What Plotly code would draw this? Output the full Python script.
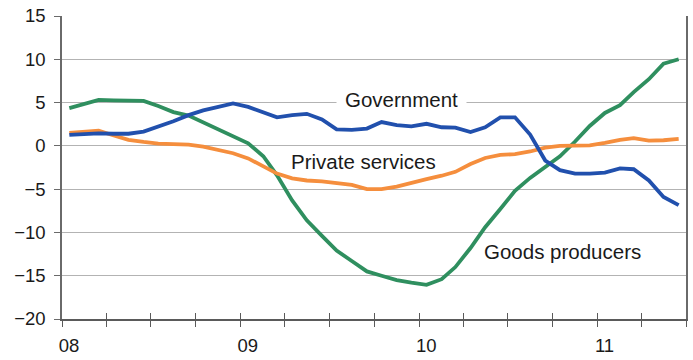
import pandas as pd
import plotly.graph_objects as go

# Monthly observations, Jan 2008 - Jun 2011 (annual % change)
months = pd.date_range("2008-01-01", periods=42, freq="MS") + pd.Timedelta(days=15)

goods_producers = [
    4.35, 4.8, 5.3, 5.25, 5.2, 5.2, 4.6, 3.9, 3.5, 2.7, 1.9, 1.1,
    0.3, -1.2, -3.4, -6.3, -8.6, -10.4, -12.1, -13.3, -14.5, -15.0, -15.5, -15.8,
    -16.05, -15.4, -14.0, -11.8, -9.4, -7.3, -5.2, -3.7, -2.4, -1.2, 0.5, 2.3,
    3.8, 4.7, 6.2, 7.7, 9.5, 10.0,
]
government = [
    1.27, 1.4, 1.45, 1.4, 1.4, 1.65, 2.2, 2.85, 3.55, 4.1, 4.5, 4.9,
    4.5, 3.85, 3.3, 3.55, 3.7, 3.05, 1.9, 1.85, 2.0, 2.75, 2.4, 2.25,
    2.55, 2.15, 2.1, 1.6, 2.15, 3.3, 3.3, 1.3, -1.7, -2.8, -3.2, -3.2,
    -3.1, -2.6, -2.7, -4.0, -5.9, -6.85,
]
private_services = [
    1.5, 1.6, 1.75, 1.2, 0.7, 0.45, 0.25, 0.2, 0.15, -0.1, -0.45, -0.85,
    -1.45, -2.35, -3.2, -3.75, -4.0, -4.1, -4.25, -4.5, -5.0, -5.0, -4.7, -4.25,
    -3.85, -3.45, -3.0, -2.1, -1.4, -1.05, -0.95, -0.65, -0.2, 0.0, 0.0, 0.05,
    0.35, 0.7, 0.9, 0.6, 0.65, 0.8,
]

quarter_ticks = pd.date_range("2008-01-01", "2011-07-01", freq="QS")
year_labels = {2008: "08", 2009: "09", 2010: "10", 2011: "11"}
quarter_text = [year_labels[d.year] if d.month == 1 else "" for d in quarter_ticks]

GREEN = "#2f8f5f"
BLUE = "#2150ad"
ORANGE = "#f58e3d"
FONT = "Liberation Sans, Arial, sans-serif"

fig = go.Figure()
for name, values, color in [
    ("Goods producers", goods_producers, GREEN),
    ("Private services", private_services, ORANGE),
    ("Government", government, BLUE),
]:
    fig.add_trace(go.Scatter(
        x=months, y=values, name=name, mode="lines",
        line=dict(color=color, width=3.8),
        hoverinfo="skip",
    ))

# companion axis carrying the inward half of the quarterly tick marks
fig.add_trace(go.Scatter(x=[], y=[], xaxis="x2", showlegend=False, hoverinfo="skip"))

x_range = ["2008-01-01", "2011-07-01"]

fig.update_layout(
    width=693, height=360,
    margin=dict(l=62, r=7, t=16, b=41),
    paper_bgcolor="white", plot_bgcolor="white",
    showlegend=False,
    font=dict(family=FONT, color="#1a1a1a"),
    xaxis=dict(
        type="date", range=x_range, automargin=False,
        tickmode="array", tickvals=quarter_ticks, ticktext=quarter_text,
        ticks="outside", ticklen=6, tickwidth=1.3, tickcolor="#5a5a5a",
        ticklabelshift=7, ticklabelstandoff=3,
        showgrid=False, zeroline=False,
        showline=True, linecolor="#5a5a5a", linewidth=2,
        tickfont=dict(size=18.5, family=FONT, color="#1a1a1a"),
    ),
    xaxis2=dict(
        type="date", range=x_range, overlaying="x", anchor="y", side="bottom",
        automargin=False,
        tickmode="array", tickvals=quarter_ticks, showticklabels=False,
        ticks="inside", ticklen=6, tickwidth=1.3, tickcolor="#5a5a5a",
        showgrid=False, zeroline=False, showline=False,
    ),
    yaxis=dict(
        range=[-20, 15], tickmode="linear", tick0=-20, dtick=5, automargin=False,
        ticks="outside", ticklen=6, tickwidth=1.3, tickcolor="#6a6a6a",
        ticklabelstandoff=5,
        showgrid=True, gridcolor="#b3b3b3", gridwidth=1.2,
        zeroline=False,
        showline=True, linecolor="#6a6a6a", linewidth=1.5, mirror=True,
        tickfont=dict(size=18.5, family=FONT, color="#1a1a1a"),
    ),
)

ann_font = dict(family=FONT, size=20.5, color="#1a1a1a")
fig.add_annotation(x="2009-11-25", y=5.3, text="Government", showarrow=False,
                   font=ann_font, bgcolor="white", borderpad=8)
fig.add_annotation(x="2009-09-08", y=-1.75, text="Private services", showarrow=False,
                   font=ann_font)
fig.add_annotation(x="2010-10-22", y=-12.15, text="Goods producers", showarrow=False,
                   font=ann_font)

fig.write_html("out.html")
